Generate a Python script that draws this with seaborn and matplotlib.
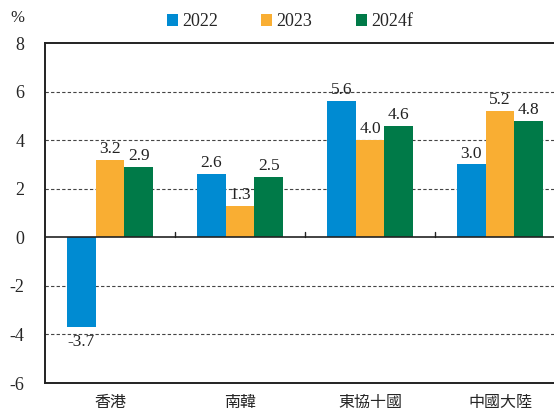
import pandas as pd
import seaborn as sns
import matplotlib.pyplot as plt

regions = ["香港", "南韓", "東協十國", "中國大陸"]
years = ["2022", "2023", "2024f"]
growth_2022 = [-3.7, 2.6, 5.6, 3.0]
growth_2023 = [3.2, 1.3, 4.0, 5.2]
growth_2024f = [2.9, 2.5, 4.6, 4.8]
colors = ["#008BD2", "#F9AE33", "#007A48"]


def main():
    rows = []
    for vals, yr in zip([growth_2022, growth_2023, growth_2024f], years):
        for r, v in zip(regions, vals):
            rows.append({"region": r, "year": yr, "value": v})
    df = pd.DataFrame(rows)

    sns.set_style("white")
    plt.rcParams["font.family"] = ["Liberation Serif", "Noto Sans CJK TC"]

    fig = plt.figure(figsize=(5.54, 4.12), dpi=100)
    # axes runs a little past the right edge, like the reference crop
    ax = fig.add_axes([45 / 554, 1 - 383 / 412, 520 / 554, 340 / 412])
    sns.barplot(data=df, x="region", y="value", hue="year", order=regions,
                hue_order=years, palette=colors, width=0.66, saturation=1,
                edgecolor="none", ax=ax, legend=True)

    ax.set_xlim(-0.5, 3.5)
    ax.set_ylim(-6, 8)
    ax.set_yticks(range(-6, 9, 2))
    ax.set_yticklabels([str(t) for t in range(-6, 9, 2)], fontsize=13)
    ax.tick_params(axis="y", length=0, pad=15)
    ax.tick_params(axis="x", length=0, pad=8)
    ax.set_xticks(range(4))
    ax.set_xticklabels(regions, family="Noto Sans CJK TC", fontsize=11.5)
    ax.set_xlabel("")
    ax.set_ylabel("")

    for y in [-4, -2, 2, 4, 6]:
        ax.axhline(y, color="#444444", lw=0.8, ls=(0, (3, 2)), zorder=0)
    ax.axhline(0, color="#222222", lw=1.2, zorder=3)
    for x in [0.5, 1.5, 2.5]:
        ax.plot([x, x], [0, 0.2], color="#222222", lw=1.0, zorder=3)

    for s in ax.spines.values():
        s.set_color("#222222")
        s.set_linewidth(1.4)
    ax.spines["right"].set_visible(False)

    for cont in ax.containers:
        for bar in cont:
            v = bar.get_height()
            cx = bar.get_x() + bar.get_width() / 2
            if v >= 0:
                ax.text(cx, v + 0.12, f"{v:.1f}", ha="center", va="bottom",
                        fontsize=12.5, color="#222222")
            else:
                ax.text(cx, v - 0.3, f"{v:.1f}", ha="center", va="top",
                        fontsize=12.5, color="#222222")

    ax.legend(loc="lower center", bbox_to_anchor=(245 / 520, 1.0),
              ncol=3, frameon=False, fontsize=13, handlelength=0.6,
              handleheight=0.6, handletextpad=0.25, columnspacing=2.4,
              borderaxespad=0.3)

    fig.text(17 / 554, 1 - 18 / 412, "%", fontsize=12, ha="center",
             va="center", color="#222222")

    plt.savefig("out.png", dpi=100)


if __name__ == "__main__":
    main()
